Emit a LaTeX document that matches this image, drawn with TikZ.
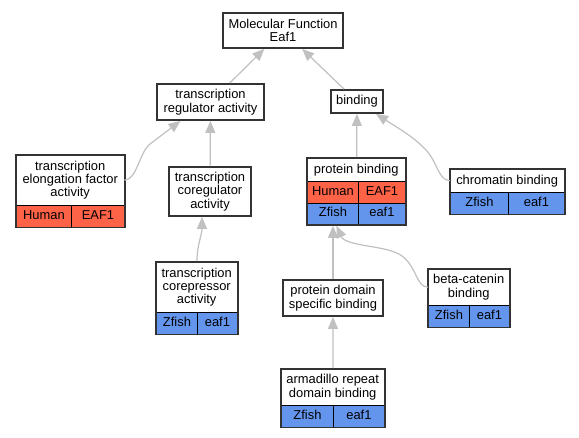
\documentclass[tikz,border=0pt]{standalone}
\usepackage{fontspec}
\setmainfont{Liberation Sans}
\usetikzlibrary{arrows.meta,fit}
\definecolor{tomato}{RGB}{255,99,71}
\definecolor{cornflower}{RGB}{100,149,237}
\definecolor{silver}{RGB}{192,192,192}
\definecolor{border}{RGB}{51,51,51}
\tikzstyle{term}=[rectangle,fill=white,align=center,inner sep=0pt,font=\fontsize{12.9}{13.4}\selectfont]
\tikzstyle{outline}=[rectangle,draw=border,line width=1.8pt,inner sep=0pt]
\tikzstyle{human cell}=[rectangle,draw=black,line width=0.9pt,fill=tomato,minimum height=21.5pt,inner sep=0pt,anchor=north west,text height=9pt,text depth=2.5pt,font=\fontsize{12.9}{13.4}\selectfont]
\tikzstyle{zfish cell}=[rectangle,draw=black,line width=0.9pt,fill=cornflower,minimum height=21.5pt,inner sep=0pt,anchor=north west,text height=9pt,text depth=2.5pt,font=\fontsize{12.9}{13.4}\selectfont]
\tikzstyle{edge} = [draw=silver,line width=1.2pt,-{Triangle[length=12pt,width=10pt]}]

\begin{document}
\begin{tikzpicture}[x=1pt,y=-1pt]
        \useasboundingbox (0,0) rectangle (579,437);
        \node[term,outline,minimum width=120pt,minimum height=35pt] (mf) at (283,30.5) {Molecular Function\\Eaf1};
        \node[term,outline,minimum width=107pt,minimum height=36pt] (reg) at (210.5,102) {transcription\\regulator activity};
        \node[term,outline,minimum width=52pt,minimum height=23pt] (bind) at (357,101.5) {binding};
        % elongation factor
        \node[term,minimum width=108pt,minimum height=50pt,anchor=north west] (elongT) at (16,155) {transcription\\elongation factor\\activity};
        \node[human cell,minimum width=55pt] (elongSp) at (16,205) {Human};
        \node[human cell,minimum width=53pt] (elongGn) at (71,205) {EAF1};
        \node[outline,fit=(elongT)(elongGn)] (elong) {};
        \node[term,outline,minimum width=82pt,minimum height=49pt] (coreg) at (210,191.5) {transcription\\coregulator\\activity};
        % corepressor
        \node[term,minimum width=81pt,minimum height=50pt,anchor=north west] (coreprT) at (156,262) {transcription\\corepressor\\activity};
        \node[zfish cell,minimum width=41pt] (coreprSp) at (156,312) {Zfish};
        \node[zfish cell,minimum width=40pt] (coreprGn) at (197,312) {eaf1};
        \node[outline,fit=(coreprT)(coreprGn)] (corepr) {};
        % protein binding
        \node[term,minimum width=98pt,minimum height=23pt,anchor=north west] (pbT) at (307,158) {protein binding};
        \node[human cell,minimum width=51pt] (pbSp1) at (307,181) {Human};
        \node[human cell,minimum width=47pt] (pbGn1) at (358,181) {EAF1};
        \node[zfish cell,minimum width=51pt] (pbSp2) at (307,202.5) {Zfish};
        \node[zfish cell,minimum width=47pt] (pbGn2) at (358,202.5) {eaf1};
        \node[outline,fit=(pbT)(pbGn2)] (pb) {};
        % chromatin binding
        \node[term,minimum width=114pt,minimum height=23pt,anchor=north west] (chromT) at (450,169) {chromatin binding};
        \node[zfish cell,minimum width=58pt] (chromSp) at (450,192) {Zfish};
        \node[zfish cell,minimum width=56pt] (chromGn) at (508,192) {eaf1};
        \node[outline,fit=(chromT)(chromGn)] (chrom) {};
        \node[term,outline,minimum width=100pt,minimum height=36pt] (pdom) at (333,298) {protein domain\\specific binding};
        % beta-catenin binding
        \node[term,minimum width=81pt,minimum height=36pt,anchor=north west] (betaT) at (428,269) {beta-catenin\\binding};
        \node[zfish cell,minimum width=41pt] (betaSp) at (428,305) {Zfish};
        \node[zfish cell,minimum width=40pt] (betaGn) at (469,305) {eaf1};
        \node[outline,fit=(betaT)(betaGn)] (beta) {};
        % armadillo repeat domain binding
        \node[term,minimum width=103pt,minimum height=36pt,anchor=north west] (armT) at (281,369) {armadillo repeat\\domain binding};
        \node[zfish cell,minimum width=52pt] (armSp) at (281,405) {Zfish};
        \node[zfish cell,minimum width=51pt] (armGn) at (333,405) {eaf1};
        \node[outline,fit=(armT)(armGn)] (arm) {};
        \draw[edge] (reg) to (mf);
        \draw[edge] (bind) to (mf);
        \draw[edge] (elongT.east) .. controls (137,180) and (139,153) .. (150,144) -- ([xshift=-30pt]reg.south);
        \draw[edge] (coreg) to (reg);
        \draw[edge] (corepr.north) .. controls (197,245) and (202,235) .. ([xshift=-8pt]coreg.south);
        \draw[edge] (pb) to (bind);
        \draw[edge] (chromT.west) .. controls (438,180) and (438,163) .. (426,150) .. controls (414,137) and (398,128) .. ([xshift=19pt]bind.south);
        \draw[edge] (pdom.north) -- (pdom.north |- pb.south);
        \draw[edge] (betaT.west) .. controls (416,287) and (417,267) .. (402,256) .. controls (388,245) and (346,247) .. ([xshift=-20pt]pb.south);
        \draw[edge] (arm) to (pdom);
      \end{tikzpicture}
\end{document}
